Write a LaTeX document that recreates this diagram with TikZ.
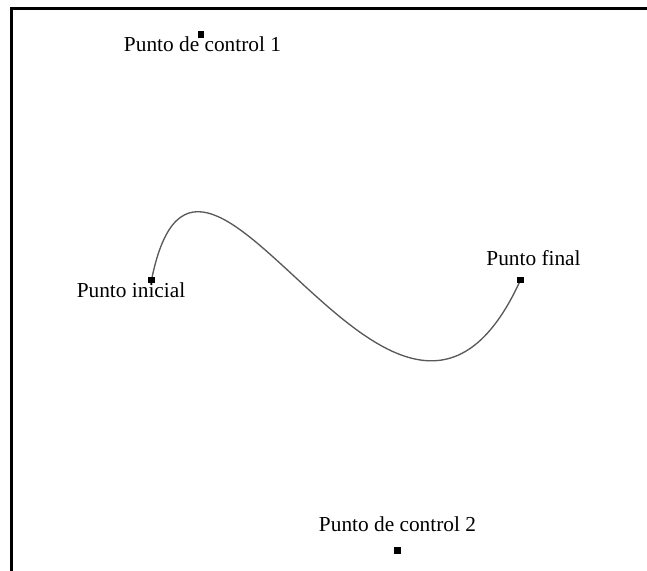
\documentclass[tikz,border=0pt]{standalone}
\usepackage{fontspec}
\setmainfont{Liberation Serif}
\begin{document}
\begin{tikzpicture}[x=0.75pt,y=-0.75pt,
  ptbox/.style={fill=black,draw=none,inner sep=0pt,minimum size=5.2pt},
  lbl/.style={font=\fontsize{16}{19}\selectfont,inner sep=0pt,anchor=base},
  curve/.style={draw=black!65,line width=1pt},
  frame/.style={draw=black,line width=1.7pt}]
\useasboundingbox (0,0) rectangle (647,571);
\coordinate (fa) at (11.5,571);
\coordinate (fb) at (11.5,8.5);
\coordinate (fc) at (647,8.5);
\draw[frame] (fa) -- (fb) -- (fc);
\coordinate (p0) at (151.5,280);
\coordinate (c1) at (201,34.5);
\coordinate (c2) at (397.5,550.5);
\coordinate (p3) at (520.5,280);
\draw[curve] (p0) .. controls (c1) and (c2) .. (p3);
\node[ptbox] (np0) at (p0) {};
\node[ptbox] (nc1) at (c1) {};
\node[ptbox] (nc2) at (c2) {};
\node[ptbox] (np3) at (p3) {};
\node[lbl] (l0) at (131,297) {Punto inicial};
\node[lbl] (l1) at (202.5,51.7) {Punto de control 1};
\node[lbl] (l2) at (397.5,531) {Punto de control 2};
\node[lbl] (l3) at (533.5,265) {Punto final};
\end{tikzpicture}
\end{document}
